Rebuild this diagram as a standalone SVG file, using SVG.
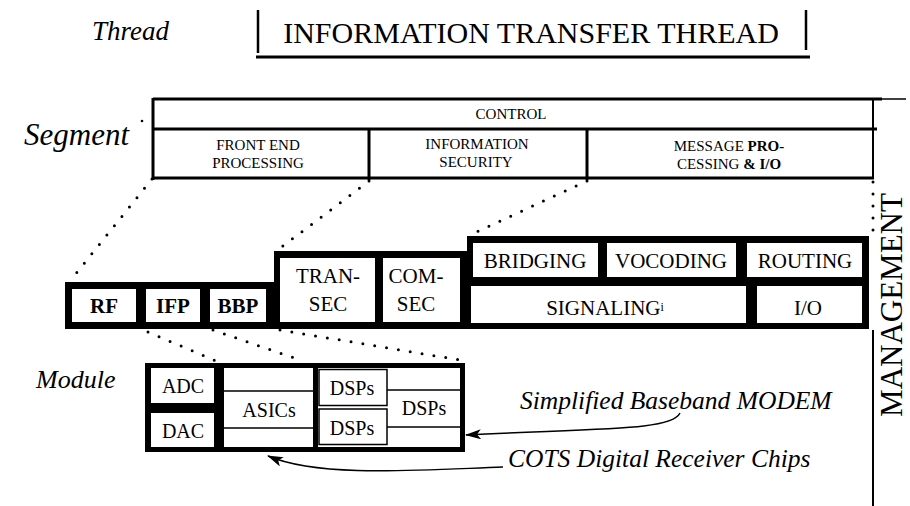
<svg xmlns="http://www.w3.org/2000/svg" width="910" height="506" viewBox="0 0 910 506">
  <defs>
    <style>
      .lbl { font-style: italic; }
      .seg { font-size: 15px; text-anchor: middle; }
      .mod { font-size: 21px; text-anchor: middle; }
      .bold { font-weight: bold; }
      .chip { font-size: 20px; text-anchor: middle; }
      .ln { stroke: #000; fill: none; }
      .dots { stroke: #000; fill: none; stroke-width: 3; stroke-linecap: round; stroke-dasharray: 0 12; }
      .box { fill: #fff; }
      .thin { stroke: #000; stroke-width: 1.5; fill: none; }
    </style>
    <marker id="head" viewBox="0 0 16 10" refX="15" refY="5" markerWidth="16" markerHeight="10" markerUnits="userSpaceOnUse" orient="auto">
      <path d="M0,0 L16,5 L0,10 L4,5 Z" fill="#000"/>
    </marker>
  </defs>

  <rect width="910" height="506" fill="#fff"/>

  <!-- level labels -->
  <g id="labels">
    <text font-family="Liberation Serif" class="lbl" x="92" y="40" font-size="27">Thread</text>
    <text font-family="Liberation Serif" class="lbl" x="24" y="145" font-size="31">Segment</text>
    <text font-family="Liberation Serif" class="lbl" x="36" y="388" font-size="26">Module</text>
    <circle cx="142" cy="121" r="1.3" fill="#000"/>
  </g>

  <!-- thread -->
  <g id="thread">
    <path class="ln" stroke-width="2.5" d="M258,10 V53 M806,10 V50"/>
    <path class="ln" stroke-width="3" d="M256,57 H810"/>
    <text font-family="Liberation Serif" x="531" y="43" font-size="30" text-anchor="middle">INFORMATION TRANSFER THREAD</text>
  </g>

  <!-- segment -->
  <g id="segment">
    <path class="ln" stroke-width="3" d="M153,99 H882 M153,129 H877 M153,178 H874"/>
    <path class="ln" stroke-width="1.5" d="M882,99 H906"/>
    <path class="ln" stroke-width="3" d="M153,98 V180 M369,129 V180 M587,129 V180"/>
    <path class="ln" stroke-width="2" d="M873,99 V178"/>
    <text font-family="Liberation Serif" class="seg" x="511" y="119">CONTROL</text>
    <text font-family="Liberation Serif" class="seg" x="258" y="150">FRONT  END</text>
    <text font-family="Liberation Serif" class="seg" x="258" y="168">PROCESSING</text>
    <text font-family="Liberation Serif" class="seg" x="477" y="149">INFORMATION</text>
    <text font-family="Liberation Serif" class="seg" x="476" y="167">SECURITY</text>
    <text font-family="Liberation Serif" class="seg" x="729" y="151">MESSAGE <tspan font-weight="bold">PRO-</tspan></text>
    <text font-family="Liberation Serif" class="seg" x="729" y="169">CESSING <tspan font-weight="bold">&amp; I/O</tspan></text>
  </g>

  <!-- management column -->
  <g id="management">
    <path class="ln" stroke-width="2" d="M873,330 V506"/>
    <text font-family="Liberation Serif" transform="translate(902,305) rotate(-90)" font-size="31" text-anchor="middle">MANAGEMENT</text>
  </g>

  <!-- projection lines -->
  <g id="connectors">
    <path class="dots" d="M152,179 L70,281"/>
    <path class="dots" d="M369,181 L279,249"/>
    <path class="dots" d="M587,181 L472,234"/>
    <path class="dots" d="M873,182 V236"/>
    <path class="dots" d="M148,332 L216,361"/>
    <path class="dots" d="M213,330 L303,361"/>
    <path class="dots" d="M280,330 L460,360"/>
    <path class="ln" stroke-width="1.5" marker-end="url(#head)" d="M680,413 C672,430 610,428 466,435"/>
    <path class="ln" stroke-width="1.5" marker-end="url(#head)" d="M503,467 C420,470 320,478 268,456"/>
  </g>

  <!-- module row -->
  <g id="modules">
    <polygon points="65,282 274,282 274,251 467,251 467,236 869,236 869,329 65,329" fill="#000"/>
    <g id="rf"><rect class="box" x="72" y="289" width="64" height="33"/><text font-family="Liberation Serif" class="mod bold" x="104" y="313" font-size="20">RF</text></g>
    <g id="ifp"><rect class="box" x="146" y="289" width="54" height="33"/><text font-family="Liberation Serif" class="mod bold" x="173" y="313" font-size="20">IFP</text></g>
    <g id="bbp"><rect class="box" x="210" y="289" width="56" height="33"/><text font-family="Liberation Serif" class="mod bold" x="238" y="313" font-size="20">BBP</text></g>
    <g id="transec"><rect class="box" x="280" y="258" width="95" height="64"/><text font-family="Liberation Serif" class="mod" x="328" y="283">TRAN-</text><text font-family="Liberation Serif" class="mod" x="328" y="311">SEC</text></g>
    <g id="comsec"><rect class="box" x="383" y="258" width="77" height="64"/><text font-family="Liberation Serif" class="mod" x="416" y="283">COM-</text><text font-family="Liberation Serif" class="mod" x="416" y="311">SEC</text></g>
    <g id="bridging"><rect class="box" x="473" y="243" width="125" height="34"/><text font-family="Liberation Serif" class="mod" x="535" y="268">BRIDGING</text></g>
    <g id="vocoding"><rect class="box" x="607" y="243" width="129" height="34"/><text font-family="Liberation Serif" class="mod" x="671" y="268">VOCODING</text></g>
    <g id="routing"><rect class="box" x="747" y="243" width="115" height="34"/><text font-family="Liberation Serif" class="mod" x="805" y="268">ROUTING</text></g>
    <g id="signaling"><rect class="box" x="471" y="286" width="275" height="37"/><text font-family="Liberation Serif" class="mod" x="605" y="315" font-size="19">SIGNALING<tspan font-size="12" dy="-4">i</tspan></text></g>
    <g id="io"><rect class="box" x="757" y="286" width="105" height="37"/><text font-family="Liberation Serif" class="mod" x="808" y="315" font-size="19">I/O</text></g>
  </g>

  <!-- baseband modem chips -->
  <g id="modem">
    <rect x="145" y="363" width="320" height="89" fill="#000"/>
    <g id="adc"><rect class="box" x="151" y="368" width="63" height="35"/><text font-family="Liberation Serif" class="chip" x="183" y="393">ADC</text></g>
    <g id="dac"><rect class="box" x="151" y="413" width="63" height="34"/><text font-family="Liberation Serif" class="chip" x="183" y="438">DAC</text></g>
    <g id="asics">
      <rect class="box" x="224" y="368" width="89" height="79"/>
      <path class="thin" d="M224,391 H313 M224,428 H313"/>
      <text font-family="Liberation Serif" class="chip" x="269" y="417">ASICs</text>
    </g>
    <g id="dsp-pair">
      <rect class="box" x="318" y="368" width="142" height="79"/>
      <rect class="thin" x="319" y="369.5" width="68" height="36"/>
      <rect class="thin" x="319" y="409" width="68" height="35.5"/>
      <text font-family="Liberation Serif" class="chip" x="352" y="395">DSPs</text>
      <text font-family="Liberation Serif" class="chip" x="352" y="435">DSPs</text>
    </g>
    <g id="dsp-col">
      <path class="thin" d="M387,390 H460 M387,427 H460"/>
      <text font-family="Liberation Serif" class="chip" x="424" y="415">DSPs</text>
    </g>
  </g>

  <!-- callouts -->
  <g id="callouts">
    <text font-family="Liberation Serif" class="lbl" x="520" y="409" font-size="25.5">Simplified Baseband MODEM</text>
    <text font-family="Liberation Serif" class="lbl" x="508" y="467" font-size="25.5">COTS Digital Receiver Chips</text>
  </g>
</svg>
